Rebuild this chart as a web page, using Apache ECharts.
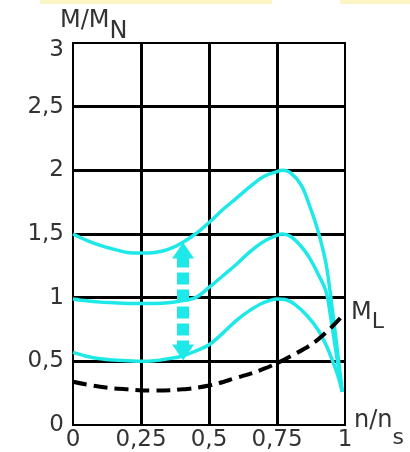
<!DOCTYPE html>
<html><head><meta charset="utf-8">
<script src="https://cdn.jsdelivr.net/npm/echarts@6/dist/echarts.min.js"></script>
<style>html,body{margin:0;padding:0;background:#fff}#c{width:410px;height:452px}</style>
</head><body><div id="c"></div>
<script>
// x positions (n/ns) for the three motor torque curves
const xTop = [0,0.05,0.1,0.15,0.2,0.25,0.3,0.35,0.4,0.45,0.5,0.55,0.6,0.65,0.7,0.75,0.77,0.8,0.84,0.87,0.9,0.93,0.955,0.97,0.99];
const yTop = [1.5,1.45,1.41,1.38,1.355,1.35,1.355,1.38,1.43,1.5,1.59,1.69,1.78,1.87,1.95,1.99,2.0,1.98,1.88,1.72,1.53,1.27,0.88,0.62,0.26];
const xMid = [0,0.05,0.1,0.15,0.2,0.25,0.3,0.35,0.4,0.45,0.5,0.55,0.6,0.65,0.7,0.75,0.77,0.8,0.84,0.87,0.9,0.93,0.945,0.965,0.99];
const yMid = [0.99,0.975,0.965,0.96,0.955,0.955,0.955,0.96,0.975,1.0,1.08,1.17,1.26,1.36,1.44,1.49,1.5,1.48,1.4,1.31,1.19,1.05,0.88,0.6,0.26];
const xLow = [0,0.05,0.1,0.15,0.2,0.25,0.3,0.35,0.4,0.45,0.5,0.55,0.6,0.65,0.7,0.75,0.78,0.82,0.86,0.9,0.93,0.955,0.975,0.99];
const yLow = [0.57,0.54,0.52,0.51,0.505,0.5,0.505,0.52,0.54,0.58,0.63,0.72,0.82,0.9,0.96,0.99,0.985,0.94,0.86,0.75,0.63,0.5,0.38,0.26];
// load torque M_L
const xLoad = [0,0.1,0.2,0.3,0.4,0.5,0.6,0.7,0.8,0.9,1.0];
const yLoad = [0.34,0.30,0.28,0.27,0.28,0.31,0.37,0.44,0.54,0.67,0.88];
// double arrow
const arrowX = 0.405;
const arrowY = [0.57, 1.37];
// ticks
const xTicks = [0,0.25,0.5,0.75,1];
const yTicks = [0,0.5,1,1.5,2,2.5,3];

const CYAN = '#1ee8e8';
const FONT = 'DejaVu Sans';
const TXT = '#333';
const FS = 23;
const zip = (xs, ys) => xs.map((x, i) => [x, ys[i]]);
const fmt = v => String(v).replace('.', ',');

const chart = echarts.init(document.getElementById('c'), null, {renderer: 'canvas'});
const cyanSeries = (data) => ({
  type: 'line', data, showSymbol: false, smooth: 0.35,
  lineStyle: {color: CYAN, width: 3.5}, z: 3, silent: true
});
chart.setOption({
  animation: false,
  grid: {left: 73, right: 65, top: 43, bottom: 25, show: true, borderColor: '#000', borderWidth: 2, backgroundColor: 'transparent'},
  xAxis: {
    type: 'value', min: 0, max: 1, interval: 0.25,
    axisLine: {show: true, lineStyle: {color: '#000', width: 2}},
    axisTick: {show: false},
    splitLine: {show: true, showMinLine: false, showMaxLine: false, lineStyle: {color: '#000', width: 3}},
    axisLabel: {formatter: v => xTicks.includes(v) ? fmt(v) : '', color: TXT, fontFamily: FONT, fontSize: FS, margin: 4}
  },
  yAxis: {
    type: 'value', min: 0, max: 3, interval: 0.5,
    axisLine: {show: true, lineStyle: {color: '#000', width: 2}},
    axisTick: {show: false},
    splitLine: {show: true, showMinLine: false, showMaxLine: false, lineStyle: {color: '#000', width: 3}},
    axisLabel: {
      formatter: v => yTicks.includes(v) ? (v === 3 ? '{t|3}' : fmt(v)) : '',
      color: TXT, fontFamily: FONT, fontSize: FS, margin: 9,
      rich: {t: {padding: [14, 0, 0, 0], color: TXT, fontFamily: FONT, fontSize: FS}}
    }
  },
  graphic: [
    {type: 'rect', shape: {x: 40, y: 0, width: 232, height: 4}, style: {fill: '#fbf5c6'}, silent: true},
    {type: 'rect', shape: {x: 340, y: 0, width: 70, height: 4}, style: {fill: '#fbf5c6'}, silent: true},
    {type: 'text', left: 60, top: 9, style: {
      text: '{a|M/M}{b|N}', fill: TXT,
      rich: {a: {fontFamily: FONT, fontSize: 24, fill: TXT, verticalAlign: 'top', lineHeight: 23},
             b: {fontFamily: FONT, fontSize: 24, fill: TXT, verticalAlign: 'bottom', lineHeight: 35}}
    }},
    {type: 'text', left: 354, top: 409, style: {
      text: '{a|n/n}{b|s}', fill: TXT,
      rich: {a: {fontFamily: FONT, fontSize: 24, fill: TXT, verticalAlign: 'top', lineHeight: 25},
             b: {fontFamily: FONT, fontSize: 22, fill: TXT, verticalAlign: 'bottom', lineHeight: 40}}
    }}
  ],
  series: [
    cyanSeries(zip(xTop, yTop)),
    cyanSeries(zip(xMid, yMid)),
    cyanSeries(zip(xLow, yLow)),
    {
      type: 'line', data: zip(xLoad, yLoad), showSymbol: false, smooth: 0.4, z: 4, silent: true,
      lineStyle: {color: '#000', width: 4, type: [14, 7]},
      endLabel: {show: true, distance: 6, offset: [0, 4], formatter: () => '{a|M}{b|L}',
        rich: {a: {fontFamily: FONT, fontSize: 24, color: TXT, verticalAlign: 'top', lineHeight: 23},
               b: {fontFamily: FONT, fontSize: 22, color: TXT, verticalAlign: 'bottom', lineHeight: 33}}}
    },
    {
      type: 'line', data: [], silent: true,
      markLine: {
        silent: true, symbol: ['triangle', 'triangle'], symbolSize: [22, 16],
        label: {show: false},
        lineStyle: {color: CYAN, width: 12, type: [12, 5], opacity: 1},
        data: [[{coord: [arrowX, arrowY[0]]}, {coord: [arrowX, arrowY[1]]}]]
      }
    }
  ]
});
</script></body></html>
